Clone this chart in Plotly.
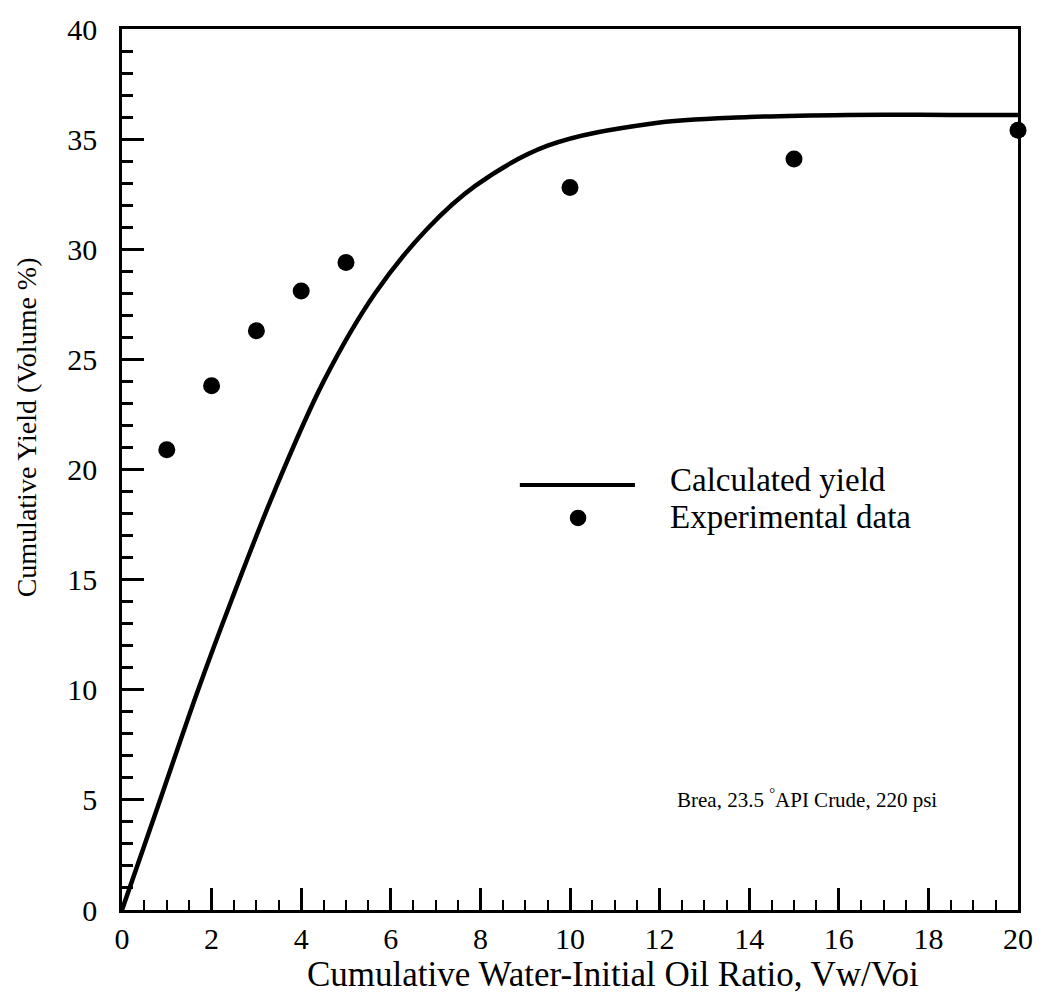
import plotly.graph_objects as go

# Calculated yield curve
calc_x = [0, 0.8, 1.7, 2.45, 3.4, 4.5, 5.65, 6.8, 7.9, 9.5, 11.8, 14, 16.2, 18.5, 20]
calc_y = [0, 4.7, 10.0, 14.1, 19.0, 24.0, 28.0, 30.9, 32.9, 34.7, 35.7, 36.0, 36.1, 36.1, 36.1]

# Experimental data
exp_x = [1, 2, 3, 4, 5, 10, 15, 20]
exp_y = [20.9, 23.8, 26.3, 28.1, 29.4, 32.8, 34.1, 35.4]

x_ticks = [0, 2, 4, 6, 8, 10, 12, 14, 16, 18, 20]
y_ticks = [0, 5, 10, 15, 20, 25, 30, 35, 40]

FONT = "Liberation Serif"

fig = go.Figure()
fig.add_trace(go.Scatter(x=calc_x, y=calc_y, mode="lines",
                         line=dict(color="black", width=4.5, shape="spline", smoothing=1.0),
                         cliponaxis=False, showlegend=False))
fig.add_trace(go.Scatter(x=exp_x, y=exp_y, mode="markers",
                         marker=dict(color="black", size=17),
                         cliponaxis=False, showlegend=False))

axis_common = dict(showgrid=False, zeroline=False, showline=True, linecolor="black",
                   linewidth=2.5, mirror=True, ticks="inside", tickcolor="black",
                   tickwidth=2.5, ticklen=22,
                   tickfont=dict(family=FONT, size=30, color="black"))

fig.update_xaxes(range=[0, 20], tickvals=x_ticks, ticktext=[str(v) for v in x_ticks],
                 minor=dict(dtick=0.5, ticks="inside", ticklen=10, tickwidth=2, tickcolor="black"),
                 **axis_common)
fig.update_yaxes(range=[0, 40], tickvals=y_ticks, ticktext=[str(v) for v in y_ticks],
                 minor=dict(dtick=1, ticks="inside", ticklen=11, tickwidth=2.5, tickcolor="black"),
                 ticklabelstandoff=16,
                 **axis_common)

annotations = [
    dict(text="Cumulative Water-Initial Oil Ratio, Vw/Voi", x=0.548, y=-0.098,
         xref="paper", yref="paper", xanchor="center", yanchor="bottom", showarrow=False,
         font=dict(family=FONT, size=35, color="black")),
    dict(text="Cumulative Yield (Volume %)", x=-0.107, y=0.548, textangle=-90,
         xref="paper", yref="paper", xanchor="center", yanchor="middle", showarrow=False,
         font=dict(family=FONT, size=28, color="black")),
    dict(text="Calculated yield", x=0.609, y=0.488, xref="paper", yref="paper",
         xanchor="left", yanchor="middle", showarrow=False,
         font=dict(family=FONT, size=33, color="black")),
    dict(text="Experimental data", x=0.609, y=0.446, xref="paper", yref="paper",
         xanchor="left", yanchor="middle", showarrow=False,
         font=dict(family=FONT, size=33, color="black")),
    dict(text="Brea, 23.5 <sup>°</sup>API Crude, 220 psi", x=0.764, y=0.127,
         xref="paper", yref="paper", xanchor="center", yanchor="middle", showarrow=False,
         font=dict(family=FONT, size=21, color="black")),
]

shapes = [
    dict(type="line", xref="paper", yref="paper", x0=0.444, x1=0.5725, y0=0.4825, y1=0.4825,
         line=dict(color="black", width=4)),
    dict(type="circle", xref="paper", yref="paper", x0=0.509 - 0.0092, x1=0.509 + 0.0092,
         y0=0.445 - 0.0094, y1=0.445 + 0.0094, fillcolor="black", line=dict(color="black", width=0)),
]

fig.update_layout(width=1046, height=998, autosize=False,
                  margin=dict(l=122, r=28, t=27, b=88),
                  plot_bgcolor="white", paper_bgcolor="white",
                  annotations=annotations, shapes=shapes, showlegend=False)

fig.write_html("out.html", include_plotlyjs=True, config={"displayModeBar": False})
